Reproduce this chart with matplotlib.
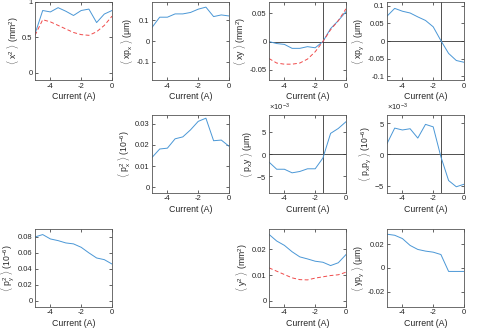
import numpy as np
import matplotlib
matplotlib.use('Agg')
import matplotlib.pyplot as plt
from matplotlib.ticker import ScalarFormatter, FuncFormatter

plt.rcParams['font.family'] = ['Liberation Sans', 'DejaVu Sans']
plt.rcParams['mathtext.fontset'] = 'custom'
plt.rcParams['mathtext.rm'] = 'Liberation Sans'
plt.rcParams['mathtext.it'] = 'Liberation Sans'
plt.rcParams['axes.unicode_minus'] = False

# beam moments vs. quadrupole current
current = [-5, -4.5, -4, -3.5, -3, -2.5, -2, -1.5, -1, -0.5, 0]

xx_meas = [0.55, 0.88, 0.86, 0.92, 0.87, 0.81, 0.88, 0.90, 0.71, 0.83, 0.88]
xx_model = [0.53, 0.75, 0.72, 0.67, 0.62, 0.57, 0.54, 0.53, 0.58, 0.67, 0.80]
xpx = [0.066, 0.116, 0.116, 0.132, 0.132, 0.139, 0.155, 0.165, 0.119, 0.127, 0.122]
xy_meas = [0.0, -0.0035, -0.005, -0.012, -0.012, -0.009, -0.011, 0.0, 0.023, 0.037, 0.053]
xy_model = [-0.030, -0.038, -0.040, -0.040, -0.038, -0.031, -0.018, 0.0, 0.021, 0.037, 0.058]
xpy = [0.070, 0.092, 0.084, 0.079, 0.068, 0.058, 0.040, 0.001, -0.035, -0.055, -0.060]
pxpx = [0.014, 0.018, 0.0184, 0.0228, 0.0237, 0.027, 0.031, 0.0325, 0.0219, 0.0222, 0.0193]
pxy = [-1.8e-3, -3.4e-3, -3.4e-3, -4.2e-3, -3.9e-3, -3.3e-3, -3.3e-3, -0.9e-3, 4.6e-3, 5.7e-3, 7.2e-3]
pxpy = [1.7e-3, 4.2e-3, 3.9e-3, 4.1e-3, 2.6e-3, 4.8e-3, 4.4e-3, -0.4e-3, -4.2e-3, -5.2e-3, -4.8e-3]
pypy = [0.080, 0.083, 0.0775, 0.0754, 0.0725, 0.0713, 0.067, 0.060, 0.0536, 0.0515, 0.046]
yy_meas = [0.0259, 0.0233, 0.0216, 0.0191, 0.0171, 0.0163, 0.0154, 0.015, 0.0137, 0.0148, 0.018]
yy_model = [0.0128, 0.0115, 0.0102, 0.0089, 0.0082, 0.0081, 0.0088, 0.0093, 0.0098, 0.0101, 0.0111]
ypy = [0.0286, 0.0277, 0.0249, 0.0191, 0.0157, 0.0143, 0.0134, 0.0114, -0.0029, -0.0029, -0.0029]

blue = '#4a97d6'
red = '#f04a4a'
W, H = 479, 331
cols = [35, 152, 269, 387]
rows = [2, 115, 229]
aw, ah = 77, 78

fig = plt.figure(figsize=(W / 100, H / 100), dpi=100)


def make_ax(r, c, ylab, ylim, yticks, cross=False, sci=False):
    ax = fig.add_axes([cols[c] / W, 1 - (rows[r] + ah) / H, aw / W, ah / H])
    ax.set_xlim(-5, 0)
    ax.set_ylim(*ylim)
    ax.set_xticks([-4, -2, 0])
    ax.set_yticks(yticks)
    ax.tick_params(direction='in', length=2, width=0.5, labelsize=5.5,
                   colors='#262626', top=True, right=True, pad=1.8)
    for s in ax.spines.values():
        s.set_color('#555555')
        s.set_linewidth(0.6)
    ax.set_xlabel('Current (A)', fontsize=6.3, color='#262626', labelpad=2)
    ax.set_ylabel(ylab, fontsize=6.2, color='#262626', labelpad=1)
    ax.xaxis.set_major_formatter(FuncFormatter(lambda v, p: '%g' % v))
    if cross:
        ax.axvline(-1.5, color='#333333', lw=0.6)
        ax.axhline(0, color='#333333', lw=0.6)
    if sci:
        fmt = ScalarFormatter(useMathText=True)
        fmt.set_powerlimits((-2, 2))
        ax.yaxis.set_major_formatter(fmt)
        ax.yaxis.get_offset_text().set_fontsize(5.5)
    else:
        ax.yaxis.set_major_formatter(FuncFormatter(lambda v, p: '%g' % round(v, 6)))
    return ax


ax = make_ax(0, 0, r'$\langle$ x$^2$ $\rangle$ (mm$^2$)', (-0.1, 1), [0, 0.5, 1])
ax.plot(current, xx_meas, color=blue, lw=0.7)
ax.plot(current, xx_model, color=red, lw=0.7, dashes=(4, 2.5))

ax = make_ax(0, 1, r'$\langle$ xp$_\mathrm{x}$ $\rangle$ (μm)', (-0.19, 0.19), [-0.1, 0, 0.1])
ax.plot(current, xpx, color=blue, lw=0.7)

ax = make_ax(0, 2, r'$\langle$ xy $\rangle$ (mm$^2$)', (-0.068, 0.07), [-0.05, 0, 0.05], cross=True)
ax.plot(current, xy_meas, color=blue, lw=0.7)
ax.plot(current, xy_model, color=red, lw=0.7, dashes=(4, 2.5))

ax = make_ax(0, 3, r'$\langle$ xp$_\mathrm{y}$ $\rangle$ (μm)', (-0.11, 0.11),
             [-0.1, -0.05, 0, 0.05, 0.1], cross=True)
ax.plot(current, xpy, color=blue, lw=0.7)

ax = make_ax(1, 1, r'$\langle$ p$_\mathrm{x}^2$ $\rangle$ (10$^{-6}$)', (-0.0027, 0.034),
             [0, 0.01, 0.02, 0.03])
ax.plot(current, pxpx, color=blue, lw=0.7)

ax = make_ax(1, 2, r'$\langle$ p$_\mathrm{x}$y $\rangle$ (μm)', (-8.7e-3, 8.7e-3),
             [-5e-3, 0, 5e-3], cross=True, sci=True)
ax.plot(current, pxy, color=blue, lw=0.7)

ax = make_ax(1, 3, r'$\langle$ p$_\mathrm{x}$p$_\mathrm{y}$ $\rangle$ (10$^{-6}$)', (-6.2e-3, 6.3e-3),
             [-5e-3, 0, 5e-3], cross=True, sci=True)
ax.plot(current, pxpy, color=blue, lw=0.7)

ax = make_ax(2, 0, r'$\langle$ p$_\mathrm{y}^2$ $\rangle$ (10$^{-6}$)', (-0.008, 0.09),
             [0, 0.02, 0.04, 0.06, 0.08])
ax.plot(current, pypy, color=blue, lw=0.7)

ax = make_ax(2, 2, r'$\langle$ y$^2$ $\rangle$ (mm$^2$)', (-0.0025, 0.028), [0, 0.01, 0.02])
ax.plot(current, yy_meas, color=blue, lw=0.7)
ax.plot(current, yy_model, color=red, lw=0.7, dashes=(4, 2.5))

ax = make_ax(2, 3, r'$\langle$ yp$_\mathrm{y}$ $\rangle$ (μm)', (-0.033, 0.033), [-0.02, 0, 0.02])
ax.plot(current, ypy, color=blue, lw=0.7)

fig.savefig('out.png', dpi=100)
